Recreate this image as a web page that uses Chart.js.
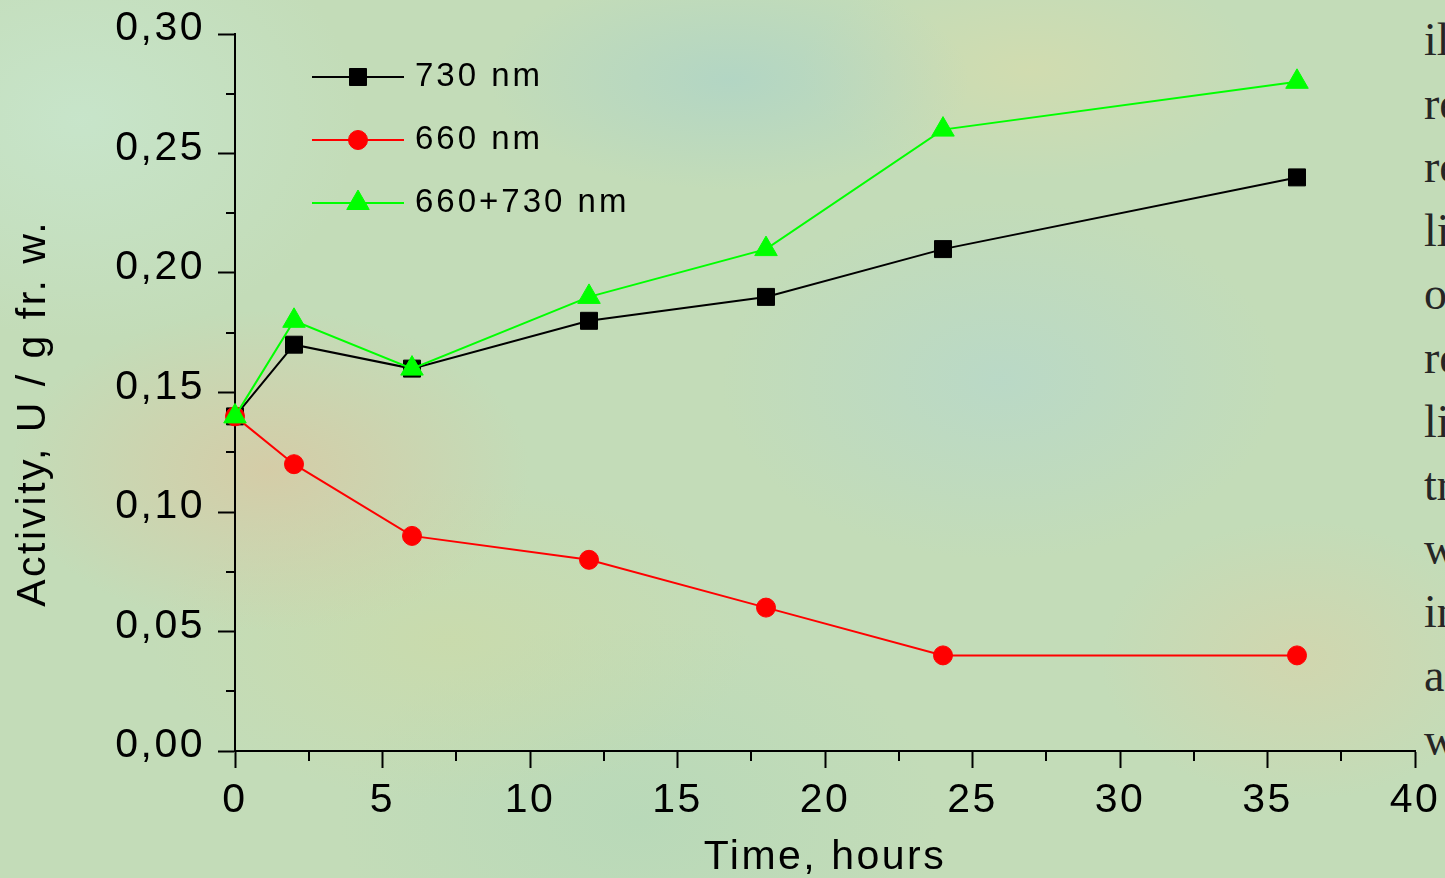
<!DOCTYPE html>
<html>
<head>
<meta charset="utf-8">
<script src="https://cdn.jsdelivr.net/npm/chart.js@4.4.1/dist/chart.umd.min.js"></script>
<style>
  html, body { margin: 0; padding: 0; width: 1445px; height: 878px; overflow: hidden; }
  body {
    position: relative;
    background-color: #c3dcb8;
    background-image:
      radial-gradient(ellipse 260px 160px at 270px 470px, rgba(220, 198, 160, 0.7), rgba(220, 198, 160, 0) 100%),
      radial-gradient(ellipse 240px 110px at 730px 80px, rgba(165, 208, 205, 0.55), rgba(165, 208, 205, 0) 100%),
      radial-gradient(ellipse 230px 110px at 1030px 70px, rgba(218, 220, 170, 0.6), rgba(218, 220, 170, 0) 100%),
      radial-gradient(ellipse 280px 180px at 1000px 380px, rgba(178, 214, 210, 0.55), rgba(178, 214, 210, 0) 100%),
      radial-gradient(ellipse 200px 140px at 1300px 660px, rgba(218, 210, 168, 0.6), rgba(218, 210, 168, 0) 100%),
      radial-gradient(ellipse 300px 160px at 450px 640px, rgba(205, 218, 165, 0.6), rgba(205, 218, 165, 0) 100%),
      radial-gradient(ellipse 280px 220px at 80px 120px, rgba(200, 230, 205, 0.85), rgba(200, 230, 205, 0) 100%),
      radial-gradient(ellipse 300px 200px at 640px 820px, rgba(178, 215, 185, 0.6), rgba(178, 215, 185, 0) 100%);
  }
  #side {
    position: absolute; left: 1424px; top: 8px;
    font-family: "Liberation Serif", "Times New Roman", serif;
    font-size: 46px; line-height: 63.6px; color: #262626;
    white-space: pre; z-index: 0;
  }
  canvas { position: absolute; left: 0; top: 0; z-index: 1; }
</style>
</head>
<body>
<div id="side">il
re
re
li
o
re
li
tr
w
in
a
w</div>
<canvas id="activityChart" width="1445" height="878"></canvas>
<script>
// data
const hours = [0, 2, 6, 12, 18, 24, 36];
const act730 = [0.14, 0.17, 0.16, 0.18, 0.19, 0.21, 0.24];
const act660 = [0.14, 0.12, 0.09, 0.08, 0.06, 0.04, 0.04];
const act660730 = [0.14, 0.18, 0.16, 0.19, 0.21, 0.26, 0.28];
const seriesLabels = ["730 nm", "660 nm", "660+730 nm"];

const xTicks = [0, 5, 10, 15, 20, 25, 30, 35, 40];
const xMinor = [2.5, 7.5, 12.5, 17.5, 22.5, 27.5, 32.5, 37.5];
const yTicks = [0, 0.05, 0.10, 0.15, 0.20, 0.25, 0.30];
const yMinor = [0.025, 0.075, 0.125, 0.175, 0.225, 0.275];

const fontFamily = "'Liberation Sans', Arial, sans-serif";

function points(ys) {
    return hours.map((h, i) => ({x: h, y: ys[i]}));
}

// wider letter spacing, as in the original figure
const spacing = {
    id: "spacing",
    beforeDraw(chart) {
        chart.ctx.letterSpacing = "2.5px";
    }
};

// short minor ticks between the labelled ones
const minorTicks = {
    id: "minorTicks",
    afterDraw(chart) {
        const {ctx, chartArea, scales: {x, y}} = chart;
        ctx.save();
        ctx.strokeStyle = "#000";
        ctx.lineWidth = 2;
        ctx.beginPath();
        xMinor.forEach(v => {
            const px = Math.round(x.getPixelForValue(v));
            ctx.moveTo(px, chartArea.bottom);
            ctx.lineTo(px, chartArea.bottom + 10);
        });
        yMinor.forEach(v => {
            const py = Math.round(y.getPixelForValue(v));
            ctx.moveTo(chartArea.left, py);
            ctx.lineTo(chartArea.left - 9, py);
        });
        ctx.stroke();
        ctx.restore();
    }
};

// legend with line + marker, like Origin draws it
const lineLegend = {
    id: "lineLegend",
    afterDraw(chart) {
        const {ctx, chartArea} = chart;
        const x0 = chartArea.left + 77;
        ctx.save();
        chart.data.datasets.forEach((ds, i) => {
            const yy = chartArea.top + 43 + i * 63;
            ctx.strokeStyle = ds.borderColor;
            ctx.lineWidth = ds.borderWidth;
            ctx.beginPath();
            ctx.moveTo(x0, yy);
            ctx.lineTo(x0 + 92, yy);
            ctx.stroke();
            ctx.fillStyle = ds.pointBackgroundColor;
            ctx.strokeStyle = ds.pointBorderColor;
            ctx.lineWidth = ds.pointBorderWidth;
            Chart.helpers.drawPoint(ctx, {
                pointStyle: ds.pointStyle,
                radius: ds.pointRadius,
                borderWidth: ds.pointBorderWidth,
                rotation: 0
            }, x0 + 46, yy);
            ctx.letterSpacing = "3px";
            ctx.fillStyle = "#000";
            ctx.font = "33px " + fontFamily;
            ctx.textAlign = "left";
            ctx.textBaseline = "alphabetic";
            ctx.fillText(ds.label, x0 + 103, yy + 9);
        });
        ctx.restore();
    }
};

const activityChart = new Chart(document.getElementById("activityChart"), {
    type: "line",
    data: {
        datasets: [{
            label: seriesLabels[0],
            data: points(act730),
            borderColor: "#000000",
            borderWidth: 2,
            pointStyle: "rect",
            pointRadius: 12,
            pointBackgroundColor: "#000000",
            pointBorderColor: "#000000",
            pointBorderWidth: 1,
            order: 3
        }, {
            label: seriesLabels[1],
            data: points(act660),
            borderColor: "#ff0000",
            borderWidth: 2,
            pointStyle: "circle",
            pointRadius: 9.5,
            pointBackgroundColor: "#ff0000",
            pointBorderColor: "#ff0000",
            pointBorderWidth: 1,
            order: 2
        }, {
            label: seriesLabels[2],
            data: points(act660730),
            borderColor: "#00ff00",
            borderWidth: 2,
            pointStyle: "triangle",
            pointRadius: 13,
            pointBackgroundColor: "#00ff00",
            pointBorderColor: "#00ff00",
            pointBorderWidth: 1,
            order: 1
        }]
    },
    options: {
        responsive: false,
        animation: false,
        events: [],
        clip: false,
        layout: {
            padding: {top: 34, right: 30, left: 0, bottom: 0}
        },
        plugins: {
            legend: {display: false},
            tooltip: {enabled: false}
        },
        scales: {
            x: {
                type: "linear",
                min: 0,
                max: 40,
                afterFit: s => { s.height = 127; s.paddingLeft = 0; s.paddingRight = 0; },
                afterBuildTicks: s => { s.ticks = xTicks.map(v => ({value: v})); },
                grid: {
                    drawOnChartArea: false,
                    drawTicks: true,
                    tickLength: 17,
                    tickWidth: 2,
                    tickColor: "#000"
                },
                border: {color: "#000", width: 2},
                ticks: {
                    color: "#000",
                    padding: 12,
                    maxRotation: 0,
                    font: {family: fontFamily, size: 41, lineHeight: 1}
                },
                title: {
                    display: true,
                    text: "Time, hours",
                    color: "#000",
                    padding: {top: 0, bottom: 0},
                    font: {family: fontFamily, size: 41, lineHeight: 1}
                }
            },
            y: {
                min: 0,
                max: 0.30,
                afterFit: s => { s.width = 235; s.paddingTop = 0; s.paddingBottom = 0; },
                afterBuildTicks: s => { s.ticks = yTicks.map(v => ({value: v})); },
                grid: {
                    drawOnChartArea: false,
                    drawTicks: true,
                    tickLength: 17,
                    tickWidth: 2,
                    tickColor: "#000"
                },
                border: {color: "#000", width: 2},
                ticks: {
                    color: "#000",
                    padding: 13,
                    labelOffset: -5,
                    font: {family: fontFamily, size: 41, lineHeight: 1},
                    callback: v => v.toFixed(2).replace(".", ",")
                },
                title: {
                    display: true,
                    text: "Activity, U / g fr. w.   ",
                    color: "#000",
                    padding: {top: 13, bottom: 0},
                    font: {family: fontFamily, size: 41, lineHeight: 1}
                }
            }
        }
    },
    plugins: [spacing, minorTicks, lineLegend]
});
</script>
</body>
</html>
